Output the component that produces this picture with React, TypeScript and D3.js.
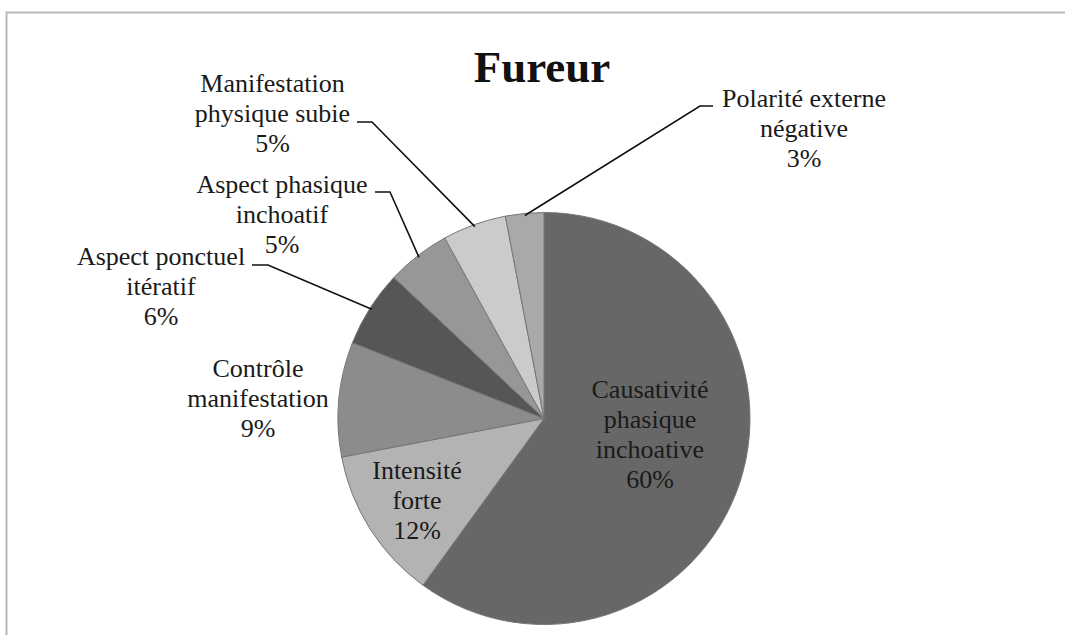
import React from "react";
import * as d3 from "d3";

const title = "Fureur";
const categories = [
  "Causativité phasique inchoative",
  "Intensité forte",
  "Contrôle manifestation",
  "Aspect ponctuel itératif",
  "Aspect phasique inchoatif",
  "Manifestation physique subie",
  "Polarité externe négative",
];
const values = [60, 12, 9, 6, 5, 5, 3];
const labelLines = [
  ["Causativité", "phasique", "inchoative"],
  ["Intensité", "forte"],
  ["Contrôle", "manifestation"],
  ["Aspect ponctuel", "itératif"],
  ["Aspect phasique", "inchoatif"],
  ["Manifestation", "physique subie"],
  ["Polarité externe", "négative"],
];
const colors = ["#676767", "#b3b3b3", "#8c8c8c", "#575555", "#979797", "#cbcbcb", "#a9a9a9"];

// layout (relative to pie centre): label centre x, first baseline y, leader elbow side
const W = 1065, H = 635;
const CX = 544, CY = 418.5, R = 206;
const labelLayout = [
  { dx: 106, dy: -20.5, leader: null },
  { dx: -127, dy: 60.5, leader: null },
  { dx: -286, dy: -41.5, leader: null },
  { dx: -383, dy: -153.5, leader: { x0: 252, x1: 268, y: 265 } },
  { dx: -262, dy: -225.5, leader: { x0: 375, x1: 390, y: 192 } },
  { dx: -271.5, dy: -326.5, leader: { x0: 357, x1: 372, y: 122 } },
  { dx: 260, dy: -311.5, leader: { x0: 713, x1: 700, y: 106 } },
];
const LINE_H = 30;

export default function App() {
  const total = d3.sum(values);
  const pie = d3.pie<number>().sort(null).value((d) => d)(values);
  const arc = d3.arc<d3.PieArcDatum<number>>().innerRadius(0).outerRadius(R);
  const font = "'Liberation Serif', 'Times New Roman', serif";

  return (
    <svg width={W} height={H} style={{ position: "absolute", left: 0, top: 0, background: "#fff" }}>
      <rect x={6.5} y={12.5} width={1200} height={800} fill="#fff" stroke="#b8b8b8" strokeWidth={2} />
      <text x={542} y={82} textAnchor="middle" fontFamily={font} fontWeight="bold" fontSize={45} fill="#111">
        {title}
      </text>
      <g transform={`translate(${CX},${CY})`}>
        {pie.map((p, i) => (
          <path key={categories[i]} d={arc(p) || ""} fill={colors[i]} stroke="#767676" strokeWidth={1} />
        ))}
      </g>
      {pie.map((p, i) => {
        const L = labelLayout[i];
        if (!L.leader) return null;
        const mid = (p.startAngle + p.endAngle) / 2;
        const ex = CX + Math.sin(mid) * R * 0.99;
        const ey = CY - Math.cos(mid) * R * 0.99;
        const { x0, x1, y } = L.leader;
        return (
          <polyline
            key={"l" + i}
            points={`${x0},${y} ${x1},${y} ${ex},${ey}`}
            fill="none"
            stroke="#111"
            strokeWidth={1.6}
          />
        );
      })}
      {pie.map((p, i) => {
        const L = labelLayout[i];
        const lines = [...labelLines[i], `${Math.round((values[i] / total) * 100)}%`];
        return (
          <text
            key={"t" + i}
            x={CX + L.dx}
            y={CY + L.dy}
            textAnchor="middle"
            fontFamily={font}
            fontSize={26}
            fill="#1a1a1a"
          >
            {lines.map((ln, k) => (
              <tspan key={k} x={CX + L.dx} dy={k === 0 ? 0 : LINE_H}>
                {ln}
              </tspan>
            ))}
          </text>
        );
      })}
    </svg>
  );
}
